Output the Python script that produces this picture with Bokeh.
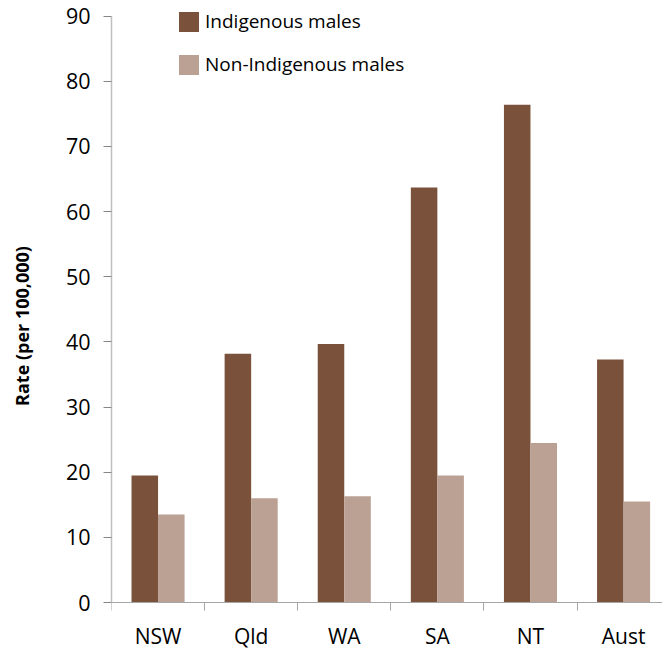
import numpy as np
from bokeh.plotting import figure
from bokeh.models import ColumnDataSource, Range1d, FixedTicker, Legend, LegendItem
from bokeh.transform import dodge
from bokeh.embed import file_html
from bokeh.resources import INLINE

# ---- data ----
states = ["NSW", "Qld", "WA", "SA", "NT", "Aust"]
indigenous = [19.5, 38.2, 39.7, 63.7, 76.4, 37.3]
non_indigenous = [13.5, 16.0, 16.3, 19.5, 24.5, 15.5]
y_ticks = [0, 10, 20, 30, 40, 50, 60, 70, 80, 90]
series_names = ["Indigenous males", "Non-Indigenous males"]
colors = ["#7A523C", "#BBA194"]

FONT = "Open Sans"

centers = np.arange(len(states)) + 0.5
bounds_x = list(np.arange(len(states) + 1).astype(float))
src = ColumnDataSource(dict(x=centers, state=states, ind=indigenous, non=non_indigenous))

p = figure(width=662, height=651, output_backend="svg", toolbar_location=None,
           x_range=Range1d(0, 5.918), y_range=Range1d(-7.52, 92.41),
           min_border_left=111, min_border_right=0, min_border_top=0, min_border_bottom=0)
p.outline_line_color = None
p.xgrid.visible = False
p.ygrid.visible = False
p.background_fill_color = "white"
p.border_fill_color = "white"

r1 = p.vbar(x=dodge("x", -0.1425), top="ind", width=0.285, source=src,
            fill_color=colors[0], line_color=None)
r2 = p.vbar(x=dodge("x", 0.1425), top="non", width=0.285, source=src,
            fill_color=colors[1], line_color=None)

# x axis: labels at centres, tick marks at category boundaries
xa = p.xaxis[0]
xa.fixed_location = 0
xa.ticker = FixedTicker(ticks=list(centers), minor_ticks=bounds_x)
xa.major_label_overrides = {float(c): s for c, s in zip(centers, states)}
xa.major_tick_out = 0
xa.major_tick_in = 0
xa.minor_tick_out = 8
xa.minor_tick_in = 0
xa.minor_tick_line_color = "#A6A6A6"
xa.axis_line_color = "#A6A6A6"
xa.axis_line_width = 1
xa.major_label_standoff = 11
xa.major_label_text_font = FONT
xa.major_label_text_font_size = "21px"
xa.major_label_text_color = "#000000"

# y axis
ya = p.yaxis[0]
ya.ticker = FixedTicker(ticks=y_ticks)
ya.bounds = (0, 90)
ya.major_tick_out = 8
ya.major_tick_in = 0
ya.minor_tick_line_color = None
ya.major_tick_line_color = "#868686"
ya.axis_line_color = "#BFBFBF"
ya.axis_line_width = 1.5
ya.major_label_standoff = 13
ya.major_label_text_font = FONT
ya.major_label_text_font_size = "21.5px"
ya.major_label_text_color = "#000000"
ya.axis_label = "Rate (per 100,000)"
ya.axis_label_standoff = 29
ya.axis_label_text_font = FONT
ya.axis_label_text_font_size = "18px"
ya.axis_label_text_font_style = "bold"
ya.axis_label_text_color = "#000000"

legend = Legend(items=[LegendItem(label=series_names[0], renderers=[r1]),
                       LegendItem(label=series_names[1], renderers=[r2])],
                location=(65, 574), orientation="vertical",
                glyph_width=25, glyph_height=25, label_height=26,
                label_standoff=4, spacing=17, padding=0, margin=0,
                border_line_color=None, background_fill_alpha=0,
                label_text_font=FONT, label_text_font_size="19px",
                label_text_color="#000000")
p.add_layout(legend, "center")

open("out.html", "w").write(file_html(p, INLINE))
